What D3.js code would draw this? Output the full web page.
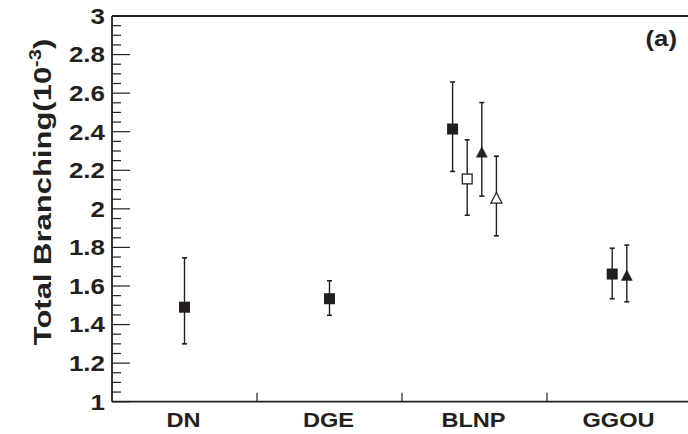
<!DOCTYPE html>
<html><head><meta charset="utf-8">
<script src="https://cdn.jsdelivr.net/npm/d3@7"></script>
<style>body{margin:0;background:#fff}svg{display:block}text{font-family:"Liberation Sans",Arial,sans-serif;font-weight:bold;fill:#231f20}</style>
</head><body><svg id="c" width="688" height="434"></svg>
<script>
const categories = ["DN","DGE","BLNP","GGOU"];
// each point: category, slot offset index, value, error low, error high, marker
const ptCategory = ["DN","DGE","BLNP","BLNP","BLNP","BLNP","GGOU","GGOU"];
const ptOffset   = [0, 0, -1.5, -0.5, 0.5, 1.5, -0.5, 0.5];
const ptValue    = [1.49, 1.534, 2.414, 2.155, 2.29, 2.052, 1.662, 1.651];
const ptLow      = [1.30, 1.448, 2.194, 1.967, 2.066, 1.86, 1.534, 1.518];
const ptHigh     = [1.746, 1.627, 2.658, 2.358, 2.551, 2.273, 1.796, 1.812];
const ptMarker   = ["sq","sq","sq","osq","tri","otri","sq","tri"];
const yTicks = [1,1.2,1.4,1.6,1.8,2,2.2,2.4,2.6,2.8,3];
const yTickLabels = ["1","1.2","1.4","1.6","1.8","2","2.2","2.4","2.6","2.8","3"];

const svg = d3.select("#c");
const L=112, R=692, T=16, B=401.7;
const ink="#231f20";
const SX=1.18;
const x = d3.scaleBand().domain(categories).range([L,R]);
const y = d3.scaleLinear().domain([1,3]).range([B,T]);
const slot = 14.6;

// frame: top line
svg.append("line").attr("x1",L).attr("x2",R).attr("y1",T).attr("y2",T).attr("stroke",ink).attr("stroke-width",1.8);

// y axis
const minor = d3.range(1,3.0001,0.05);
svg.append("g").selectAll("line").data(minor).join("line")
  .attr("x1",L).attr("x2",d=>Math.abs(d*5-Math.round(d*5))<1e-6? L+18 : L+9)
  .attr("y1",d=>y(d)).attr("y2",d=>y(d)).attr("stroke",ink).attr("stroke-width",1.2);
svg.append("line").attr("x1",L).attr("x2",L).attr("y1",T).attr("y2",B).attr("stroke",ink).attr("stroke-width",1.8);
svg.append("g").selectAll("text").data(yTicks).join("text")
  .attr("transform",d=>`translate(105,${y(d)}) scale(${SX},1)`).attr("dy","0.36em").attr("text-anchor","end")
  .style("font-size","22px").text((d,i)=>yTickLabels[i]);

// x axis
svg.append("line").attr("x1",L).attr("x2",R).attr("y1",B).attr("y2",B).attr("stroke",ink).attr("stroke-width",1.8);
svg.append("g").selectAll("line").data(categories.slice(1)).join("line")
  .attr("x1",d=>x(d)).attr("x2",d=>x(d)).attr("y1",B).attr("y2",B-9).attr("stroke",ink).attr("stroke-width",1.2);
svg.append("g").selectAll("text").data(categories).join("text")
  .attr("transform",d=>`translate(${x(d)+x.bandwidth()/2-1},427) scale(${SX},1)`).attr("text-anchor","middle")
  .style("font-size","20px").text(d=>d);

// y label
svg.append("text").attr("transform","translate(51,192) scale(0.8,1) rotate(-90)").attr("text-anchor","middle")
  .style("font-size","31px")
  .html('Total Branching(10<tspan dy="-12" style="font-size:20px">-3</tspan><tspan dy="12">)</tspan>');

// (a)
svg.append("text").attr("transform",`translate(677,46) scale(1.12,1)`).attr("text-anchor","end").style("font-size","23px").text("(a)");

// points
const pts = ptValue.map((v,i)=>({cat:ptCategory[i],off:ptOffset[i],v,lo:ptLow[i],hi:ptHigh[i],m:ptMarker[i]}));
const px = d=>x(d.cat)+x.bandwidth()/2 + d.off*slot;
const g = svg.append("g");
pts.forEach(d=>{
  const cx=px(d);
  g.append("line").attr("x1",cx).attr("x2",cx).attr("y1",y(d.hi)).attr("y2",y(d.lo)).attr("stroke",ink).attr("stroke-width",1.4);
  [d.hi,d.lo].forEach(e=>g.append("line").attr("x1",cx-2.5).attr("x2",cx+2.5).attr("y1",y(e)).attr("y2",y(e)).attr("stroke",ink).attr("stroke-width",1.6));
  const cy=y(d.v), s=11;
  if(d.m==="sq"||d.m==="osq"){
    const open=d.m==="osq";
    g.append("rect").attr("x",cx-s/2+(open?0.6:0)).attr("y",cy-s/2+(open?0.6:0)).attr("width",s-(open?1.2:0)).attr("height",s-(open?1.2:0))
      .attr("fill",open?"#fff":ink).attr("stroke",ink).attr("stroke-width",open?1.3:0);
  } else {
    const open=d.m==="otri";
    const w=11,h=10.5;
    g.append("path").attr("d",`M${cx},${cy-h/2-1}L${cx+w/2},${cy+h/2-1}L${cx-w/2},${cy+h/2-1}Z`)
      .attr("fill",open?"#fff":ink).attr("stroke",ink).attr("stroke-width",open?1.3:0.5);
  }
});
</script></body></html>
